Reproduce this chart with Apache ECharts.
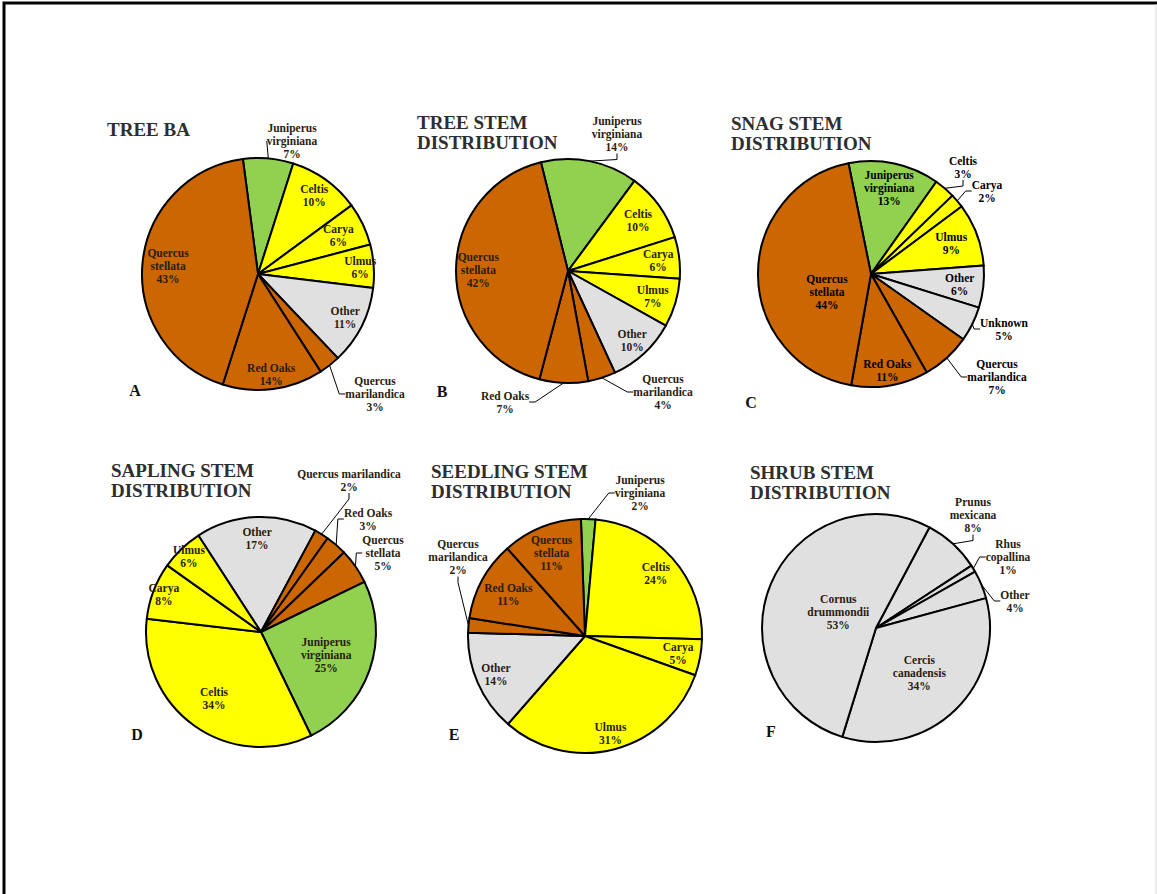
<!DOCTYPE html>
<html>
<head>
<meta charset="utf-8">
<script src="https://cdn.jsdelivr.net/npm/echarts@6.0.0/dist/echarts.min.js"></script>
<style>
html,body{margin:0;padding:0;background:#fff;}
#chart{width:1157px;height:894px;}
</style>
</head>
<body>
<div id="chart"></div>
<script>
// ---------------- DATA ----------------
const treeBaNames = ['Juniperus virginiana','Celtis','Carya','Ulmus','Other','Quercus marilandica','Red Oaks','Quercus stellata'];
const treeBaValues = [7,10,6,6,11,3,14,43];

const treeStemNames = ['Juniperus virginiana','Celtis','Carya','Ulmus','Other','Quercus marilandica','Red Oaks','Quercus stellata'];
const treeStemValues = [14,10,6,7,10,4,7,42];

const snagNames = ['Juniperus virginiana','Celtis','Carya','Ulmus','Other','Unknown','Quercus marilandica','Red Oaks','Quercus stellata'];
const snagValues = [13,3,2,9,6,5,7,11,44];

const saplingNames = ['Other','Quercus marilandica','Red Oaks','Quercus stellata','Juniperus virginiana','Celtis','Carya','Ulmus'];
const saplingValues = [17,2,3,5,25,34,8,6];

const seedlingNames = ['Juniperus virginiana','Celtis','Carya','Ulmus','Other','Quercus marilandica','Red Oaks','Quercus stellata'];
const seedlingValues = [2,24,5,31,14,2,11,11];

const shrubNames = ['Prunus mexicana','Rhus copallina','Other','Cercis canadensis','Cornus drummondii'];
const shrubValues = [8,1,4,34,53];

const panelTitles = ['TREE BA','TREE STEM\nDISTRIBUTION','SNAG STEM\nDISTRIBUTION','SAPLING STEM\nDISTRIBUTION','SEEDLING STEM\nDISTRIBUTION','SHRUB STEM\nDISTRIBUTION'];
const panelLetters = ['A','B','C','D','E','F'];

// ---------------- LAYOUT / STYLE ----------------
const ORANGE = '#CC6600', GREEN = '#92D050', YELLOW = '#FFFF00', GRAY = '#E0E0E0';
const SERIF = '"Liberation Serif","Times New Roman",serif';

// label spec: number = inside, radial fraction of radius; {x,y} = placed label (outside with leader unless inside:true)
const panels = [
  { names: treeBaNames, values: treeBaValues, center: [258, 274], r: 116, start: 97.5,
    title: [107, 119], letter: [135, 390], allGray: false, oneLine: [],
    labels: [{x:292,y:141}, 0.79, 0.73, 0.84, 0.80, {x:375,y:394}, 0.83, 0.74] },
  { names: treeStemNames, values: treeStemValues, center: [568, 271], r: 112, start: 104,
    title: [417, 112], letter: [442, 391], allGray: false, oneLine: [],
    labels: [{x:617,y:134}, 0.73, 0.77, 0.75, 0.80, {x:663,y:392}, {x:505,y:402}, 0.76] },
  { names: snagNames, values: snagValues, center: [871, 274], r: 113, start: 101.5,
    title: [731, 113], letter: [751, 402], allGray: false, oneLine: [], bold: true,
    labels: [0.74, {x:963,y:167}, {x:987,y:191}, 0.72, 0.75, {x:1004,y:329}, {x:997,y:377}, 0.82, {x:827,y:292,inside:true}] },
  { names: saplingNames, values: saplingValues, center: [261, 632], r: 115, start: 123,
    title: [111, 460], letter: [137, 734], allGray: false, oneLine: ['Quercus marilandica'],
    labels: [0.77, {x:349,y:480}, {x:368,y:519}, {x:383,y:553}, 0.57, 0.67, 0.86, 0.86] },
  { names: seedlingNames, values: seedlingValues, center: [585, 636], r: 117, start: 92,
    title: [431, 461], letter: [454, 734], allGray: false, oneLine: [],
    labels: [{x:640,y:493}, 0.77, 0.77, 0.82, 0.79, {x:458,y:557}, 0.71, 0.73] },
  { names: shrubNames, values: shrubValues, center: [876, 628], r: 114, start: 62,
    title: [750, 462], letter: [771, 731], allGray: true, oneLine: [],
    labels: [{x:973,y:515}, {x:1008,y:557}, {x:1015,y:601}, 0.52, 0.34] }
];

function colorOf(name, panel) {
  if (panel.allGray) return GRAY;
  if (/Quercus|Red Oaks/.test(name)) return ORANGE;
  if (/Juniperus/.test(name)) return GREEN;
  if (/Celtis|Carya|Ulmus/.test(name)) return YELLOW;
  return GRAY;
}
function labelText(name, value, panel) {
  let n = name;
  if (name !== 'Red Oaks' && panel.oneLine.indexOf(name) < 0) n = name.replace(' ', '\n');
  return n + '\n' + value + '%';
}

const series = panels.map(function (p) {
  const cx = p.center[0], cy = p.center[1];
  return {
    type: 'pie',
    center: p.center,
    radius: [0, p.r],
    startAngle: p.start,
    clockwise: true,
    avoidLabelOverlap: false,
    silent: true,
    animation: false,
    emphasis: { disabled: true },
    itemStyle: { borderColor: '#000', borderWidth: 2 },
    label: {
      show: true,
      fontFamily: SERIF,
      fontWeight: 'bold',
      fontSize: 11.5,
      lineHeight: 13,
      color: p.bold ? '#000' : '#2a1d10',
      align: 'center',
      formatter: function (d) { return labelText(d.name, d.value, p); }
    },
    labelLine: { show: true, length: 6, length2: 6, smooth: false, lineStyle: { color: '#000', width: 1 } },
    labelLayout: function (prm) {
      const spec = p.labels[prm.dataIndex];
      if (typeof spec === 'number') {
        const rc = prm.labelRect;
        const lx = rc.x + rc.width / 2, ly = rc.y + rc.height / 2;
        const k = spec / 0.5;
        return { x: cx + (lx - cx) * k, y: cy + (ly - cy) * k, align: 'center', verticalAlign: 'middle' };
      }
      return { x: spec.x, y: spec.y, align: 'center', verticalAlign: 'middle' };
    },
    data: p.names.map(function (n, i) {
      const spec = p.labels[i];
      const outside = (typeof spec !== 'number') && !spec.inside;
      return {
        name: n,
        value: p.values[i],
        itemStyle: { color: colorOf(n, p) },
        label: { position: outside ? 'outside' : 'inside' },
        labelLine: { show: outside }
      };
    })
  };
});

const graphics = [];
panels.forEach(function (p, i) {
  graphics.push({
    type: 'text', x: p.title[0], y: p.title[1], silent: true,
    style: { text: panelTitles[i], font: 'bold 19px ' + SERIF, lineHeight: 20, fill: '#2e2e2e', textAlign: 'left', textVerticalAlign: 'top' }
  });
  graphics.push({
    type: 'text', x: p.letter[0], y: p.letter[1], silent: true,
    style: { text: panelLetters[i], font: 'bold 16px ' + SERIF, fill: '#111', textAlign: 'center', textVerticalAlign: 'middle' }
  });
});
// page frame
graphics.push({ type: 'polyline', silent: true, shape: { points: [[4, 900], [4, 3], [1157, 3]] }, style: { stroke: '#000', lineWidth: 3, fill: null } });
graphics.push({ type: 'line', silent: true, shape: { x1: 1156, y1: 4, x2: 1156, y2: 900 }, style: { stroke: '#d8d8d8', lineWidth: 1 } });

const chart = echarts.init(document.getElementById('chart'), null, { renderer: 'svg' });
chart.setOption({
  backgroundColor: '#fff',
  animation: false,
  graphic: graphics,
  series: series
});
</script>
</body>
</html>
